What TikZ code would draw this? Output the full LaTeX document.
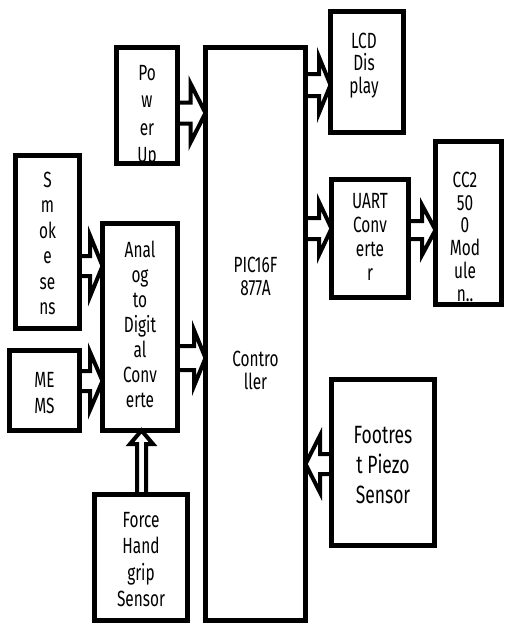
\documentclass[tikz,border=0pt]{standalone}
\usepackage{fontspec}
\setmainfont{Fira Sans}[FakeStretch=0.7]
\usetikzlibrary{calc}
\pgfdeclarelayer{back}
\pgfdeclarelayer{bg}
\pgfsetlayers{back,bg,main}
\newcommand\mytop{\rule{0pt}{22pt}}
% #1 start, #2 tip, #3 shaft half width, #4 head half width, #5 head length
\newcommand\barrow[5]{%
  \coordinate (hb) at ($(#2)!#5pt!(#1)$);
  \draw[arr] ($(#1)!#3pt!90:(#2)$) -- ($(hb)!#3pt!-90:(#1)$) -- ($(hb)!#4pt!-90:(#1)$) -- (#2)
    -- ($(hb)!#4pt!90:(#1)$) -- ($(hb)!#3pt!90:(#1)$) -- ($(#1)!#3pt!-90:(#2)$) -- cycle;}
\begin{document}
\begin{tikzpicture}[x=1pt,y=-1pt,
  box/.style={draw=black, line width=5pt, rectangle, inner sep=0pt, outer sep=0pt},
  arr/.style={draw=black, fill=white, line width=4pt, line join=miter},
  txt/.style={anchor=north, align=center, inner sep=0pt, text=black},
  ]
\begin{pgfonlayer}{back}
\fill[white] (0,0) rectangle (504,624);
\end{pgfonlayer}
\useasboundingbox (0,0) rectangle (504,624);

% boxes
\node[box, minimum width=61pt,  minimum height=116pt] (power) at (147,105.5) {};
\node[box, minimum width=100pt, minimum height=573pt] (ctrl)  at (255.5,334) {};
\node[box, minimum width=73pt,  minimum height=121pt] (lcd)   at (367,72) {};
\node[box, minimum width=77pt,  minimum height=118pt] (uart)  at (370,238.5) {};
\node[box, minimum width=66pt,  minimum height=163pt] (cc)    at (468.5,223) {};
\node[box, minimum width=64pt,  minimum height=173pt] (smoke) at (47.5,242) {};
\node[box, minimum width=75pt,  minimum height=207pt] (adc)   at (140,327) {};
\node[box, minimum width=70pt,  minimum height=80pt]  (mems)  at (44.5,390.5) {};
\node[box, minimum width=93pt,  minimum height=126pt] (force) at (141,557.5) {};
\node[box, minimum width=103pt, minimum height=166pt] (foot)  at (383,462.5) {};

% texts
\begin{scope}
\clip ([shift={(2.5pt,2.5pt)}]power.south west) rectangle ([shift={(-2.5pt,-2.5pt)}]power.north east);
\node[txt, font=\fontsize{22}{27.5}\selectfont] (powert) at (147,58) {\mytop Po\\w\\er\\Up};
\end{scope}
\node[txt, font=\fontsize{22}{25.5}\selectfont] (smoket) at (47.5,165) {\mytop S\\m\\ok\\e\\se\\ns};
\node[txt, font=\fontsize{22}{25}\selectfont] (adct) at (140,235) {\mytop Anal\\og\\to\\Digit\\al\\Conv\\erte};
\node[txt, font=\fontsize{22}{26}\selectfont] (memst) at (44.5,365) {\mytop ME\\MS};
\node[txt, font=\fontsize{22}{26.5}\selectfont] (forcet) at (141,505) {\mytop Force\\Hand\\grip\\Sensor};
\node[txt, font=\fontsize{22}{23.5}\selectfont] (ctrlt) at (255.5,250) {\mytop PIC16F\\877A\\[47pt]Contro\\ller};
\node[txt, font=\fontsize{22}{22.5}\selectfont] (lcdt) at (364,26) {\mytop LCD\\Dis\\play};
\node[txt, font=\fontsize{22}{24}\selectfont] (uartt) at (370,186) {\mytop UART\\Conv\\erte\\r};
\begin{scope}
\clip ([shift={(2.5pt,2.5pt)}]cc.south west) rectangle ([shift={(-2.5pt,-2.5pt)}]cc.north east);
\node[txt, font=\fontsize{22}{22.8}\selectfont] (cct) at (465,165) {\mytop CC2\\50\\0\\Mod\\ule\\n..};
\end{scope}
\node[txt, font=\fontsize{25}{30}\selectfont] (foott) at (383,421) {\mytop Footres\\t Piezo\\Sensor};

% connector end points
\coordinate (a1) at ([yshift=-7.5pt]power.east);  \coordinate (b1) at (ctrl.west |- a1);
\coordinate (a2) at ([yshift=-24pt]smoke.east);   \coordinate (b2) at (adc.west |- a2);
\coordinate (a3) at ([yshift=9.5pt]mems.east);    \coordinate (b3) at (adc.west |- a3);
\coordinate (a4) at ([yshift=-31pt]adc.east);     \coordinate (b4) at (ctrl.west |- a4);
\coordinate (b5) at ([yshift=-13pt]lcd.west);     \coordinate (a5) at (ctrl.east |- b5);
\coordinate (b6) at ([yshift=10pt]uart.west);     \coordinate (a6) at (ctrl.east |- b6);
\coordinate (a7) at ([yshift=8.5pt]uart.east);    \coordinate (b7) at (cc.west |- a7);
\coordinate (a8) at ([yshift=-1.5pt]foot.west);   \coordinate (b8) at (ctrl.east |- a8);
\coordinate (a9) at ([xshift=0.5pt]force.north);  \coordinate (b9) at (adc.south -| a9);

\begin{pgfonlayer}{bg}
\barrow{a1}{b1}{10.5}{29.5}{15}
\barrow{a2}{b2}{10}{30.5}{12.5}
\barrow{a3}{b3}{10}{29}{12.5}
\barrow{a4}{b4}{12}{28}{11.5}
\barrow{a5}{b5}{11}{28}{11.5}
\barrow{a6}{b6}{10.5}{26.5}{12.5}
\barrow{a7}{b7}{9}{25}{13.5}
\barrow{a8}{b8}{10}{28.5}{14.5}
\barrow{a9}{b9}{4.5}{11.5}{13.5}
\end{pgfonlayer}
\end{tikzpicture}
\end{document}
